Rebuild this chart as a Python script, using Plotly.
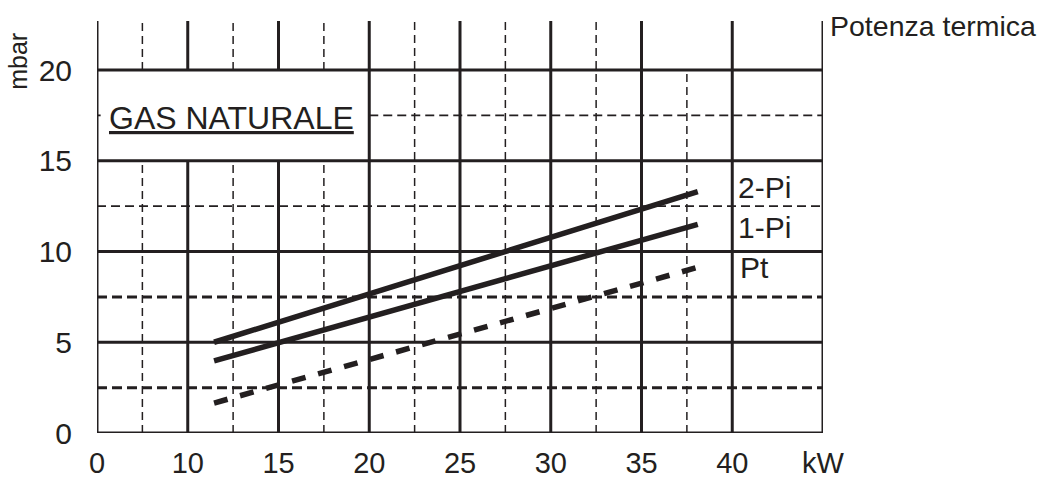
import plotly.graph_objects as go

# ---- data ----
series_names = ["2-Pi", "1-Pi", "Pt"]
x_2pi = [11.45, 38.1]
y_2pi = [5.0, 13.3]
x_1pi = [11.45, 38.1]
y_1pi = [3.97, 11.5]
x_pt = [11.45, 38.0]
y_pt = [1.65, 9.1]

x_tick_vals = [5, 10, 15, 20, 25, 30, 35, 40, 45]
x_tick_text = ["0", "10", "15", "20", "25", "30", "35", "40", "kW"]
y_tick_vals = [0, 5, 10, 15, 20]
y_tick_text = ["0", "5", "10", "15", "20"]

X_MIN, X_MAX = 5, 45
Y_MIN, Y_MAX = 0, 22.7

INK = "#231f20"
FONT = "Liberation Sans, Arial, sans-serif"

fig = go.Figure()

fig.add_trace(go.Scatter(x=x_2pi, y=y_2pi, mode="lines", name=series_names[0],
                         line=dict(color=INK, width=5.5)))
fig.add_trace(go.Scatter(x=x_1pi, y=y_1pi, mode="lines", name=series_names[1],
                         line=dict(color=INK, width=5.5)))
fig.add_trace(go.Scatter(x=x_pt, y=y_pt, mode="lines", name=series_names[2],
                         line=dict(color=INK, width=5.5, dash="14px,13px")))

shapes = []

def seg(x0, y0, x1, y1, width, dash="solid"):
    shapes.append(dict(type="line", xref="x", yref="y", x0=x0, y0=y0, x1=x1, y1=y1,
                       line=dict(color=INK, width=width, dash=dash), layer="below"))

# box area for label: x 5..20, y 15..20 (no grid inside)
BOX_X1, BOX_Y0, BOX_Y1 = 20, 15, 20

# solid verticals
for xv in [10, 15]:
    seg(xv, Y_MIN, xv, BOX_Y0, 3)
    seg(xv, BOX_Y1, xv, Y_MAX, 3)
for xv in [20, 25, 30, 35, 40, 45]:
    seg(xv, Y_MIN, xv, Y_MAX, 3)

# dashed verticals
for xv in [7.5, 12.5, 17.5]:
    seg(xv, Y_MIN, xv, BOX_Y0, 1.5, "8px,5px")
    seg(xv, BOX_Y1, xv, Y_MAX, 1.5, "8px,5px")
for xv in [22.5, 27.5, 32.5]:
    seg(xv, Y_MIN, xv, Y_MAX, 1.5, "8px,5px")
seg(37.5, Y_MIN, 37.5, 20, 1.5, "8px,5px")

# solid horizontals
for yv in [5, 10, 15, 20]:
    seg(X_MIN, yv, X_MAX, yv, 3)

# thin dashed horizontals
seg(X_MIN, 12.5, X_MAX, 12.5, 1.8, "9px,5px")
seg(BOX_X1, 17.5, X_MAX, 17.5, 1.8, "9px,5px")
seg(X_MIN, 17.5, X_MIN + 0.2, 17.5, 1.8)

# thick dashed horizontals
for yv in [2.5, 7.5]:
    seg(X_MIN, yv, X_MAX, yv, 3, "10px,5px")

# axes lines
seg(X_MIN, Y_MIN, X_MIN, Y_MAX, 3)
seg(X_MIN, Y_MIN, X_MAX, Y_MIN, 3)

annotations = [
    dict(text="<u>GAS NATURALE</u>", x=12.41, y=17.35, xref="x", yref="y",
         xanchor="center", yanchor="middle", showarrow=False,
         font=dict(family=FONT, size=32, color=INK)),
    dict(text="2-Pi", x=40.2, y=13.5, xref="x", yref="y", xanchor="left",
         yanchor="middle", showarrow=False, font=dict(family=FONT, size=30, color=INK)),
    dict(text="1-Pi", x=40.2, y=11.35, xref="x", yref="y", xanchor="left",
         yanchor="middle", showarrow=False, font=dict(family=FONT, size=30, color=INK)),
    dict(text="Pt", x=40.3, y=9.1, xref="x", yref="y", xanchor="left",
         yanchor="middle", showarrow=False, font=dict(family=FONT, size=30, color=INK)),
    dict(text="Potenza termica", x=1.0075, y=22.45, xref="paper", yref="y", xanchor="left",
         yanchor="middle", showarrow=False, font=dict(family=FONT, size=28.5, color=INK)),
    dict(text="mbar", x=-0.109, y=20.5, xref="paper", yref="y", xanchor="center",
         yanchor="middle", textangle=-90, showarrow=False,
         font=dict(family=FONT, size=25, color=INK)),
]

fig.update_layout(
    width=1042, height=479,
    autosize=False,
    margin=dict(l=97, r=219, t=21, b=46, pad=0, autoexpand=False),
    paper_bgcolor="white", plot_bgcolor="white",
    showlegend=False,
    shapes=shapes,
    annotations=annotations,
    xaxis=dict(range=[X_MIN, X_MAX], tickvals=x_tick_vals, ticktext=x_tick_text,
               showgrid=False, zeroline=False, showline=False, ticks="",
               automargin=False, ticklabelstandoff=10,
               tickfont=dict(family=FONT, size=29, color=INK)),
    yaxis=dict(range=[Y_MIN, Y_MAX], tickvals=y_tick_vals, ticktext=y_tick_text,
               showgrid=False, zeroline=False, showline=False, ticks="",
               automargin=False, ticklabelstandoff=24,
               tickfont=dict(family=FONT, size=30, color=INK)),
)

fig.write_html(
    "out.html",
    config={"responsive": False, "displayModeBar": False},
    post_script="document.body.style.margin='0';document.body.style.overflow='hidden';"
                "document.documentElement.style.overflow='hidden';",
)
